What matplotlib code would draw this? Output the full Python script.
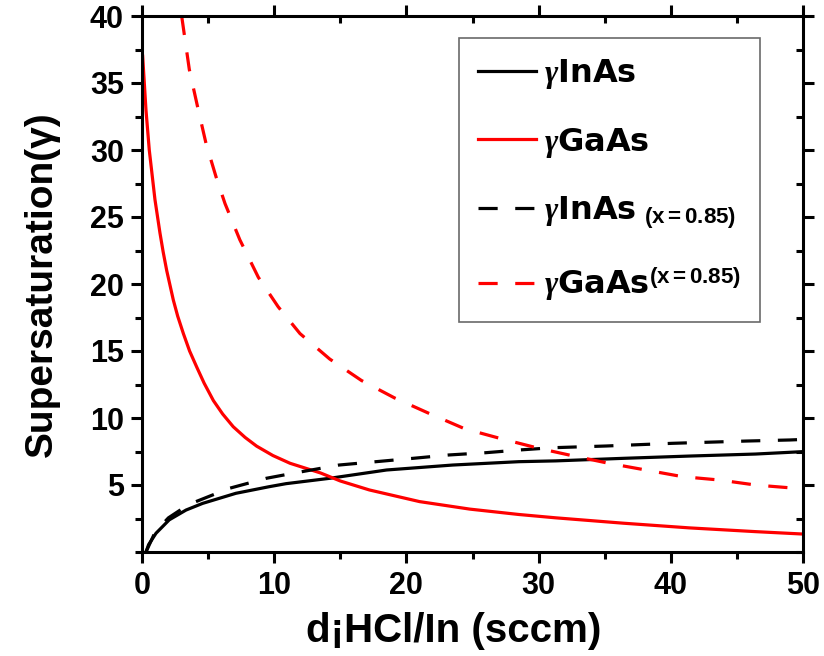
import matplotlib
matplotlib.use("Agg")
import matplotlib.pyplot as plt
import matplotlib.lines as mlines
from matplotlib.ticker import MultipleLocator, FixedLocator

plt.rcParams["font.family"] = ["Liberation Sans", "DejaVu Sans"]
plt.rcParams["font.weight"] = "bold"
plt.rcParams["mathtext.fontset"] = "custom"
plt.rcParams["mathtext.rm"] = "DejaVu Sans"
plt.rcParams["mathtext.bf"] = "DejaVu Sans:bold"
plt.rcParams["mathtext.sf"] = "Liberation Sans:bold"
plt.rcParams["mathtext.it"] = "Liberation Serif:italic"

# gamma for InAs, solid
inas_x = [0.3, 0.5, 1.06, 2.06, 3.33, 4.59, 7.1, 9.6, 10.9, 14.2, 18.5, 23.5, 28.5, 31.3, 36.4, 41.4, 46.4, 50.0]
inas_y = [0.0, 0.55, 1.4, 2.4, 3.13, 3.63, 4.38, 4.87, 5.1, 5.5, 6.12, 6.49, 6.74, 6.8, 6.99, 7.16, 7.31, 7.49]

# gamma for GaAs, solid
gaas_x = [0.05, 0.3, 0.55, 0.98, 1.36, 1.6, 1.87, 2.37, 2.7, 3.13, 3.6, 4.14, 4.7, 5.4, 6.1, 6.9, 7.8, 8.67,
          9.9, 11.2, 13.5, 15.0, 17.2, 21.0, 24.8, 28.5, 31.3, 36.4, 41.4, 46.4, 50.0]
gaas_y = [37.0, 33.0, 30.0, 26.3, 23.8, 22.4, 21.0, 18.8, 17.6, 16.3, 15.0, 13.8, 12.6, 11.3, 10.3, 9.35, 8.55, 7.9,
          7.2, 6.62, 5.9, 5.3, 4.63, 3.76, 3.2, 2.8, 2.55, 2.15, 1.8, 1.52, 1.34]

# x = 0.85, dashed
inas85_x = [0.3, 1.0, 2.0, 3.0, 4.08, 6.6, 9.4, 11.4, 14.9, 17.7, 20.5, 23.2, 26.0, 28.5, 31.0, 35.1, 40.1, 45.7, 49.0, 50.0]
inas85_y = [0.0, 1.5, 2.55, 3.2, 3.76, 4.75, 5.5, 5.87, 6.49, 6.74, 6.99, 7.24, 7.41, 7.61, 7.78, 7.91, 8.11, 8.28, 8.36, 8.4]

gaas85_x = [3.0, 3.58, 4.21, 4.84, 5.6, 6.28, 7.4, 8.8, 10.3, 11.95, 14.2, 16.6, 19.1, 21.7, 24.4, 27.0, 30.0, 32.3,
            35.3, 38.1, 40.9, 43.7, 46.4, 49.5, 50.0]
gaas85_y = [40.0, 36.0, 33.2, 30.5, 28.0, 26.0, 23.3, 20.5, 18.3, 16.3, 14.4, 12.8, 11.5, 10.35, 9.2, 8.5, 7.74, 7.24,
            6.62, 6.12, 5.62, 5.37, 5.0, 4.75, 4.7]

xticks = [0, 10, 20, 30, 40, 50]
yticks = [5, 10, 15, 20, 25, 30, 35, 40]

labels = [
    r"$\gamma\mathbf{InAs}$",
    r"$\gamma\mathbf{GaAs}$",
    r"$\gamma\mathbf{InAs}\ _{\mathsf{(x{=}0.85)}}$",
    r"$\gamma\mathbf{GaAs}^{\mathsf{(x{=}0.85)}}$",
]

fig = plt.figure(figsize=(8.24, 6.56), dpi=100)
ax = fig.add_axes([142 / 824, 1 - 552 / 656, (803 - 142) / 824, (552 - 16) / 656])

lw = 2.3
dash = (0, (6, 5.5))
ax.plot(inas_x, inas_y, color="black", lw=lw, label=labels[0])
ax.plot(gaas_x, gaas_y, color="#ff0000", lw=lw, label=labels[1])
ax.plot(inas85_x, inas85_y, color="black", lw=lw, ls=dash, label=labels[2])
ax.plot(gaas85_x, gaas85_y, color="#ff0000", lw=lw, ls=dash, label=labels[3])

ax.set_xlim(0, 50)
ax.set_ylim(0, 40)
ax.xaxis.set_major_locator(FixedLocator(xticks))
ax.xaxis.set_minor_locator(MultipleLocator(5))
ax.yaxis.set_major_locator(FixedLocator(yticks))
ax.yaxis.set_minor_locator(MultipleLocator(2.5))

for s in ax.spines.values():
    s.set_linewidth(2.2)

ax.tick_params(which="both", width=2.2, top=True, right=True)
ax.tick_params(which="major", length=8)
ax.tick_params(which="minor", length=5)
# ticks out on left/bottom, in on top/right
for t in ax.xaxis.get_major_ticks() + ax.xaxis.get_minor_ticks():
    t.tick1line.set_marker(mlines.TICKDOWN)
    t.tick2line.set_marker(mlines.TICKDOWN)
for t in ax.yaxis.get_major_ticks() + ax.yaxis.get_minor_ticks():
    t.tick1line.set_marker(mlines.TICKLEFT)
    t.tick2line.set_marker(mlines.TICKLEFT)
ax.tick_params(axis="x", pad=6)
ax.tick_params(axis="y", pad=5)
for lab in ax.get_xticklabels() + ax.get_yticklabels():
    lab.set_family(["Liberation Sans Narrow", "Liberation Sans"])
    lab.set_fontweight("bold")
    lab.set_fontsize(22)

ax.set_xlabel("d¡HCl/In (sccm)", fontsize=29, fontweight="bold")
ax.xaxis.set_label_coords(0.472, -0.112)
ax.set_ylabel("Supersaturation(γ)", fontsize=28, fontweight="bold", labelpad=22)

leg = ax.legend(
    loc="upper left",
    bbox_to_anchor=(459 / 824, 1 - 38 / 656),
    bbox_transform=fig.transFigure,
    borderaxespad=0,
    fontsize=23,
    handlelength=1.8,
    handletextpad=0.25,
    labelspacing=1.08,
    borderpad=0.6,
    fancybox=False,
    frameon=True,
)
leg.get_frame().set_edgecolor("#444444")
leg.get_frame().set_linewidth(1.2)

fig.savefig("out.png", dpi=100)
